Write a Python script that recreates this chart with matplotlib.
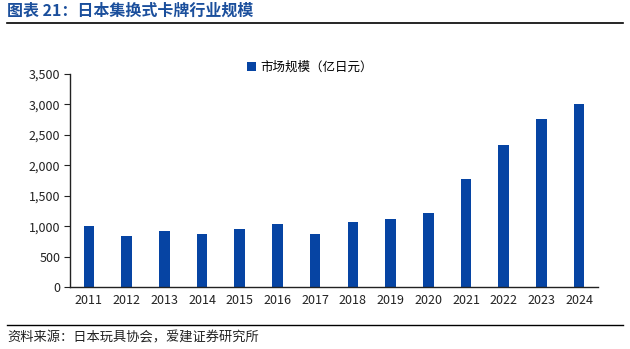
import numpy as np
import matplotlib as mpl
from matplotlib import pyplot as plt
from matplotlib.ticker import FuncFormatter

mpl.rcParams['font.family'] = ['Noto Sans CJK SC', 'DejaVu Sans']

years = ["2011", "2012", "2013", "2014", "2015", "2016", "2017",
         "2018", "2019", "2020", "2021", "2022", "2023", "2024"]
market_size = [1009, 845, 927, 866, 953, 1042, 877,
               1068, 1122, 1221, 1770, 2333, 2760, 3007]
series_name = "市场规模（亿日元）"
title = "图表 21：日本集换式卡牌行业规模"
source = "资料来源：日本玩具协会，爱建证券研究所"

bar_color = "#0644a3"
title_color = "#1b4f9c"

fig = plt.figure(figsize=(6.3, 3.49), dpi=100)
ax = fig.add_axes([70 / 630, 1 - 287 / 349, 528 / 630, 213 / 349])

x = np.arange(len(years))
ax.bar(x, market_size, width=0.28, color=bar_color, label=series_name)
ax.set_xlim(-0.5, len(years) - 0.5)
ax.set_ylim(0, 3500)
ax.set_yticks(np.arange(0, 3501, 500))
ax.yaxis.set_major_formatter(FuncFormatter(lambda v, p: f"{int(v):,}"))
ax.set_xticks(x)
ax.set_xticklabels(years)
ax.tick_params(axis='x', length=0, labelsize=9, pad=5, colors="#222222")
ax.tick_params(axis='y', length=4, labelsize=9, pad=3, colors="#222222")
for s in ["top", "right"]:
  ax.spines[s].set_visible(False)
for s in ["left", "bottom"]:
  ax.spines[s].set_color("#222222")
  ax.spines[s].set_linewidth(1.0)

leg = ax.legend(loc="upper center", bbox_to_anchor=(0.455, 1.115), frameon=False,
                fontsize=9, handlelength=0.7, handleheight=0.7, handletextpad=0.4)

fig.text(7 / 630, 1 - 11 / 349, title, fontsize=11.5, fontweight="bold",
         color=title_color, va="center", ha="left")
fig.add_artist(plt.Line2D([7 / 630, 623 / 630], [1 - 23 / 349, 1 - 23 / 349],
                          color="black", linewidth=1.2))
fig.add_artist(plt.Line2D([7 / 630, 623 / 630], [1 - 325 / 349, 1 - 325 / 349],
                          color="black", linewidth=1.0))
fig.text(7 / 630, 1 - 338 / 349, source, fontsize=9.5, color="#222222",
         va="center", ha="left")

fig.savefig("out.png", dpi=100)
